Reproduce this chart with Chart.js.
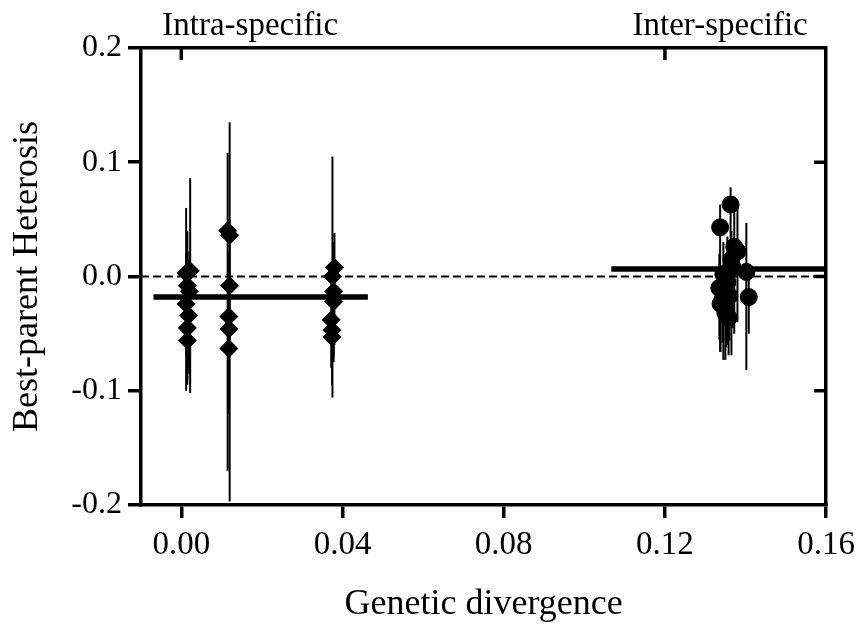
<!DOCTYPE html>
<html>
<head>
<meta charset="utf-8">
<script src="https://cdn.jsdelivr.net/npm/chart.js@4/dist/chart.umd.min.js"></script>
<style>
  body { margin: 0; background: #fff; }
  #chart { display: block; }
</style>
</head>
<body>
<canvas id="chart" width="863" height="626"></canvas>
<script>
// intra-specific crosses (diamonds)
const intraX    = [0.0022, 0.0012, 0.0015, 0.0020, 0.0012, 0.0018, 0.0015, 0.0015,
                   0.0115, 0.0120, 0.0120, 0.0118, 0.0118, 0.0118,
                   0.0380, 0.0375, 0.0378, 0.0378, 0.0372, 0.0374, 0.0374];
const intraY    = [0.005, 0.003, -0.008, -0.013, -0.024, -0.034, -0.045, -0.056,
                   0.040, 0.036, -0.008, -0.035, -0.046, -0.063,
                   0.008, 0.000, -0.013, -0.022, -0.038, -0.047, -0.053];
const intraLow  = [-0.102, -0.100, -0.080, -0.085, -0.070, -0.080, -0.090, -0.095,
                   -0.170, -0.060, -0.197, -0.090, -0.100, -0.120,
                   -0.060, -0.106, -0.075, -0.070, -0.080, -0.090, -0.095];
const intraHigh = [0.086, 0.060, 0.040, 0.022, 0.020, 0.015, 0.010, 0.005,
                   0.108, 0.050, 0.135, 0.020, 0.010, -0.005,
                   0.038, 0.105, 0.030, 0.025, 0.010, 0.005, 0.000];

// inter-specific crosses (circles)
const interX    = [0.1363, 0.1337, 0.1372, 0.1380, 0.1365, 0.1402, 0.1345,
                   0.1355, 0.1335, 0.1408, 0.1360, 0.1338, 0.1350, 0.1358,
                   0.1368, 0.1352, 0.1343];
const interY    = [0.063, 0.043, 0.026, 0.022, 0.015, 0.004, 0.002,
                   -0.005, -0.010, -0.018, -0.017, -0.024, -0.032, -0.036,
                   0.008, -0.012, -0.020];
const interLow  = [-0.015, -0.066, -0.050, -0.040, -0.069, -0.082, -0.073,
                   -0.060, -0.055, -0.050, -0.056, -0.066, -0.073, -0.069,
                   -0.045, -0.062, -0.058];
const interHigh = [0.078, 0.063, 0.070, 0.060, 0.040, 0.047, 0.030,
                   0.035, 0.020, 0.010, 0.015, 0.010, 0.005, -0.005,
                   0.030, 0.012, 0.008];

// group means
const intraMeanX = [-0.0069, 0.0463];
const intraMeanY = -0.018;
const interMeanX = [0.1067, 0.16];
const interMeanY = 0.0066;

const xTicks = [0.00, 0.04, 0.08, 0.12, 0.16];
const yTicks = [-0.2, -0.1, 0.0, 0.1, 0.2];
const topTicks = [0.00, 0.12];
const rightTicks = [-0.1, 0.0, 0.1];
const groupLabels = ['Intra-specific', 'Inter-specific'];

const FONT = "'Liberation Serif', 'Times New Roman', serif";

const toPoints = (xs, ys) => xs.map((x, i) => ({ x: x, y: ys[i] }));

// vertical error bars drawn through the chart scales
const errorBars = {
  id: 'errorBars',
  beforeDatasetsDraw(chart) {
    const { ctx, scales: { x, y } } = chart;
    ctx.save();
    ctx.strokeStyle = '#000';
    ctx.lineWidth = 2;
    const draw = (xs, lo, hi) => {
      xs.forEach((v, i) => {
        const px = x.getPixelForValue(v);
        ctx.beginPath();
        ctx.moveTo(px, y.getPixelForValue(lo[i]));
        ctx.lineTo(px, y.getPixelForValue(hi[i]));
        ctx.stroke();
      });
    };
    draw(intraX, intraLow, intraHigh);
    draw(interX, interLow, interHigh);
    ctx.restore();
  }
};

// inward ticks on the top and right frame + group labels
const frameExtras = {
  id: 'frameExtras',
  afterDraw(chart) {
    const { ctx, chartArea, scales: { x, y } } = chart;
    ctx.save();
    ctx.strokeStyle = '#000';
    ctx.lineWidth = 3.5;
    topTicks.forEach(v => {
      const px = x.getPixelForValue(v);
      ctx.beginPath();
      ctx.moveTo(px, chartArea.top);
      ctx.lineTo(px, chartArea.top + 12);
      ctx.stroke();
    });
    rightTicks.forEach(v => {
      const py = y.getPixelForValue(v);
      ctx.beginPath();
      ctx.moveTo(chartArea.right, py);
      ctx.lineTo(chartArea.right - 12, py);
      ctx.stroke();
    });
    ctx.fillStyle = '#000';
    ctx.font = '33px ' + FONT;
    ctx.textAlign = 'center';
    ctx.textBaseline = 'alphabetic';
    const labelAt = [0.0171, 0.1337];
    groupLabels.forEach((t, i) => {
      ctx.fillText(t, x.getPixelForValue(labelAt[i]), 35);
    });
    ctx.restore();
  }
};

const axisGrid = {
  display: true,
  drawOnChartArea: false,
  drawTicks: true,
  tickLength: 13,
  lineWidth: 3.5,
  tickWidth: 3.5,
  color: '#000',
  tickColor: '#000'
};
const axisBorder = { display: true, width: 3.5, color: '#000' };

new Chart(document.getElementById('chart'), {
  type: 'scatter',
  data: {
    datasets: [
      {
        type: 'line',
        data: [{ x: -0.01, y: 0 }, { x: 0.16, y: 0 }],
        borderColor: '#000',
        borderWidth: 2,
        borderDash: [8, 4],
        pointRadius: 0
      },
      {
        type: 'line',
        data: intraMeanX.map(v => ({ x: v, y: intraMeanY })),
        borderColor: '#000',
        borderWidth: 5.5,
        pointRadius: 0
      },
      {
        type: 'line',
        data: interMeanX.map(v => ({ x: v, y: interMeanY })),
        borderColor: '#000',
        borderWidth: 5.5,
        pointRadius: 0
      },
      {
        label: 'Intra-specific',
        data: toPoints(intraX, intraY),
        pointStyle: 'rectRot',
        pointRadius: 9,
        backgroundColor: '#000',
        borderColor: '#000',
        borderWidth: 1
      },
      {
        label: 'Inter-specific',
        data: toPoints(interX, interY),
        pointStyle: 'circle',
        pointRadius: 8.5,
        backgroundColor: '#000',
        borderColor: '#000',
        borderWidth: 1
      }
    ]
  },
  options: {
    responsive: false,
    animation: false,
    layout: { padding: 0 },
    plugins: {
      legend: { display: false },
      tooltip: { enabled: false }
    },
    scales: {
      x: {
        type: 'linear',
        position: 'bottom',
        min: -0.01,
        max: 0.16,
        afterBuildTicks: s => { s.ticks = xTicks.map(v => ({ value: v })); },
        afterFit: s => { s.height = 121; },
        grid: axisGrid,
        border: axisBorder,
        ticks: {
          color: '#000',
          padding: 8,
          maxRotation: 0,
          font: { family: FONT, size: 33 },
          callback: v => v.toFixed(2)
        },
        title: {
          display: true,
          text: 'Genetic divergence',
          color: '#000',
          padding: { top: 0, bottom: 0 },
          font: { family: FONT, size: 36 }
        }
      },
      y: {
        type: 'linear',
        position: 'left',
        min: -0.2,
        max: 0.2,
        afterBuildTicks: s => { s.ticks = yTicks.map(v => ({ value: v })); },
        afterFit: s => { s.width = 141; },
        grid: axisGrid,
        border: axisBorder,
        ticks: {
          color: '#000',
          padding: 6,
          font: { family: FONT, size: 32 },
          callback: v => v.toFixed(1)
        },
        title: {
          display: true,
          text: 'Best-parent Heterosis',
          color: '#000',
          padding: { top: 6, bottom: 0 },
          font: { family: FONT, size: 36 }
        }
      },
      x2: {
        type: 'linear',
        position: 'top',
        min: -0.01,
        max: 0.16,
        afterFit: s => { s.height = 48; },
        grid: { display: true, drawOnChartArea: false, drawTicks: false },
        border: axisBorder,
        ticks: { display: false }
      },
      y2: {
        type: 'linear',
        position: 'right',
        min: -0.2,
        max: 0.2,
        afterFit: s => { s.width = 36; },
        grid: { display: true, drawOnChartArea: false, drawTicks: false },
        border: axisBorder,
        ticks: { display: false }
      }
    }
  },
  plugins: [errorBars, frameExtras]
});
</script>
</body>
</html>
